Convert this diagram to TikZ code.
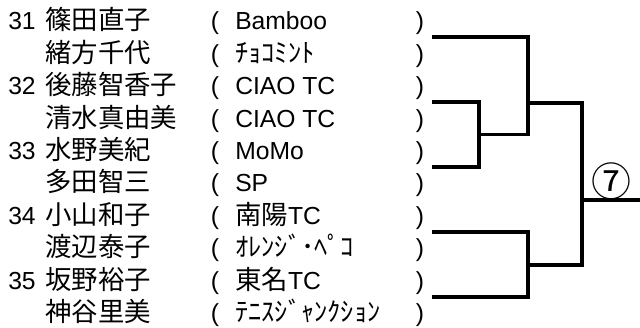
\documentclass[tikz,border=0pt]{standalone}
\usepackage{fontspec}
\setmainfont{Liberation Sans}
\newfontfamily\jpfont[Scale=1.07]{Noto Sans CJK JP}
\usepackage{tikz}
\usetikzlibrary{positioning}

\begin{document}
\begin{tikzpicture}[x=0.75pt,y=-0.75pt,line join=miter,
	font=\fontsize{18.5}{20}\selectfont]
	\tikzstyle{entry}=[inner sep=0pt,anchor=base west]
	\tikzstyle{paren}=[inner sep=0pt,anchor=base]
	\tikzstyle{bracket}=[draw=black,line width=2.4pt]
	
	\useasboundingbox (0,0) rectangle (640,328);
	
	\node[entry] (n1)  at (8,30)   {31};
	\node[entry] (a1)  at (45,30)  {\jpfont 篠田直子};
	\node[paren] (o1)  at (215,30) {(};
	\node[entry] (t1)  at (235,30) {Bamboo};
	\node[paren] (c1)  at (420,30) {)};
	
	\node[entry] (a2)  at (45,62.4)  {\jpfont 緒方千代};
	\node[paren] (o2)  at (215,62.4) {(};
	\node[entry] (t2)  at (235,62.4) {\jpfont ﾁｮｺﾐﾝﾄ};
	\node[paren] (c2)  at (420,62.4) {)};
	
	\node[entry] (n3)  at (8,94.8)   {32};
	\node[entry] (a3)  at (45,94.8)  {\jpfont 後藤智香子};
	\node[paren] (o3)  at (215,94.8) {(};
	\node[entry] (t3)  at (235,94.8) {CIAO TC};
	\node[paren] (c3)  at (420,94.8) {)};
	
	\node[entry] (a4)  at (45,127.2)  {\jpfont 清水真由美};
	\node[paren] (o4)  at (215,127.2) {(};
	\node[entry] (t4)  at (235,127.2) {CIAO TC};
	\node[paren] (c4)  at (420,127.2) {)};
	
	\node[entry] (n5)  at (8,159.6)   {33};
	\node[entry] (a5)  at (45,159.6)  {\jpfont 水野美紀};
	\node[paren] (o5)  at (215,159.6) {(};
	\node[entry] (t5)  at (235,159.6) {MoMo};
	\node[paren] (c5)  at (420,159.6) {)};
	
	\node[entry] (a6)  at (45,192)  {\jpfont 多田智三};
	\node[paren] (o6)  at (215,192) {(};
	\node[entry] (t6)  at (235,192) {SP};
	\node[paren] (c6)  at (420,192) {)};
	
	\node[entry] (n7)  at (8,224.4)   {34};
	\node[entry] (a7)  at (45,224.4)  {\jpfont 小山和子};
	\node[paren] (o7)  at (215,224.4) {(};
	\node[entry] (t7)  at (235,224.4) {{\jpfont 南陽}TC};
	\node[paren] (c7)  at (420,224.4) {)};
	
	\node[entry] (a8)  at (45,256.8)  {\jpfont 渡辺泰子};
	\node[paren] (o8)  at (215,256.8) {(};
	\node[entry] (t8)  at (235,256.8) {\jpfont ｵﾚﾝｼﾞ･ﾍﾟｺ};
	\node[paren] (c8)  at (420,256.8) {)};
	
	\node[entry] (n9)  at (8,289.2)   {35};
	\node[entry] (a9)  at (45,289.2)  {\jpfont 坂野裕子};
	\node[paren] (o9)  at (215,289.2) {(};
	\node[entry] (t9)  at (235,289.2) {{\jpfont 東名}TC};
	\node[paren] (c9)  at (420,289.2) {)};
	
	\node[entry] (a10) at (45,321.6)  {\jpfont 神谷里美};
	\node[paren] (o10) at (215,321.6) {(};
	\node[entry] (t10) at (235,321.6) {\jpfont ﾃﾆｽｼﾞｬﾝｸｼｮﾝ};
	\node[paren] (c10) at (420,321.6) {)};
	
	\coordinate (e31) at (432,37);
	\coordinate (e32) at (432,102);
	\coordinate (e33) at (432,167);
	\coordinate (e34) at (432,232);
	\coordinate (e35) at (432,297);
	\coordinate (j23) at (479,134.5);
	\coordinate (k31) at (528,134.5);
	\coordinate (j45) at (528,264.5);
	\coordinate (s1)  at (528,103);
	\coordinate (s2)  at (528,265);
	\coordinate (f)   at (582,200);
	\coordinate (out) at (640,200);
	
	\node[inner sep=0pt,font=\fontsize{28}{30}\selectfont] (r7) at (611,181) {\jpfont ⑦};
	
	\draw[bracket] (e32) -| (j23) |- (e33);
	\draw[bracket] (e31) -| (k31) -- (j23);
	\draw[bracket] (e34) -| (j45) |- (e35);
	\draw[bracket] (s1) -| (f) |- (s2);
	\draw[bracket] (f) -- (out);
	
\end{tikzpicture}
\end{document}
